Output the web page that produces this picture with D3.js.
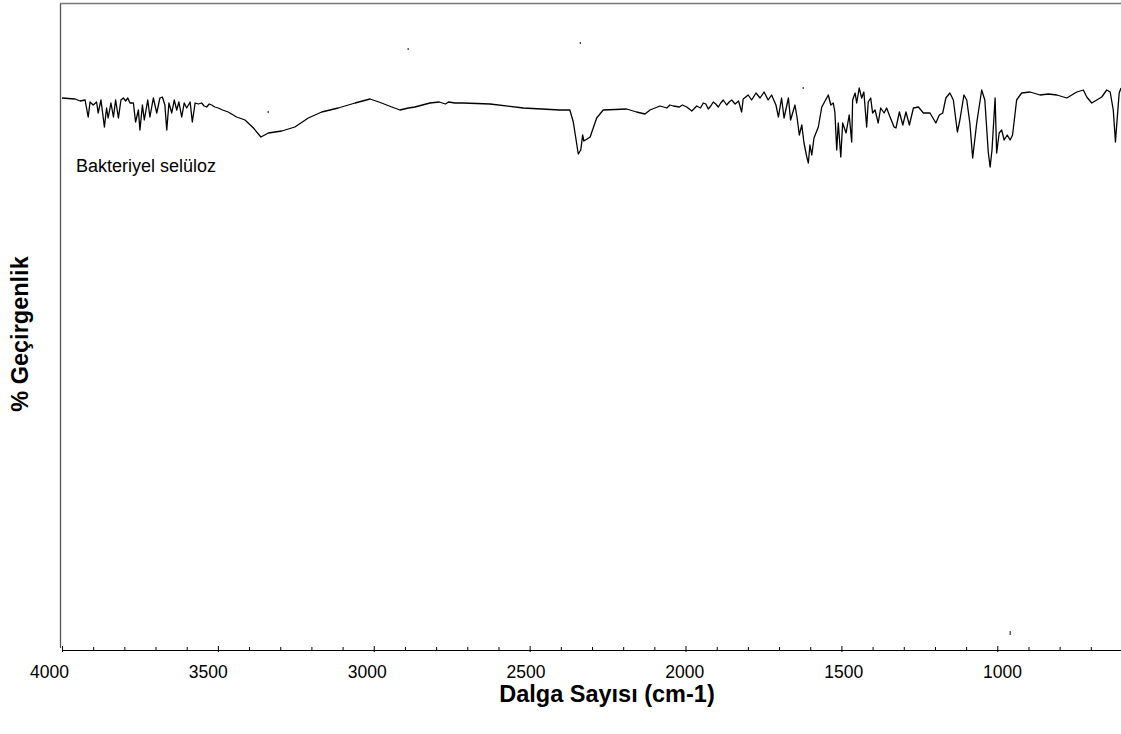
<!DOCTYPE html>
<html>
<head>
<meta charset="utf-8">
<script src="https://cdn.jsdelivr.net/npm/d3@7/dist/d3.min.js"></script>
<style>
  body { margin: 0; background: #fff; }
  svg text { font-family: Arial, "Liberation Sans", sans-serif; fill: #000; }
</style>
</head>
<body>
<div id="chart"></div>
<script>
// ---DATA---//

// [wavenumber cm-1, transmittance %]
var spectrum = [
	[4000,55.2],[3958,55.1],[3942,54.9],[3926,55.0],[3916,53.3],[3910,54.8],[3900,54.5],[3889,54.8],
	[3884,53.7],[3875,55.0],[3864,52.3],[3857,54.2],[3852,53.2],[3843,54.7],[3835,53.3],[3828,55.0],
	[3819,53.2],[3811,55.0],[3803,55.2],[3796,54.9],[3789,55.2],[3782,54.7],[3771,54.7],[3764,52.8],
	[3755,54.0],[3750,52.0],[3742,54.5],[3736,53.0],[3725,55.0],[3718,53.3],[3707,55.2],[3696,53.7],
	[3686,55.2],[3678,55.3],[3670,54.5],[3664,52.0],[3657,54.7],[3648,53.7],[3640,55.0],[3632,54.0],
	[3625,54.8],[3616,53.3],[3608,54.7],[3600,54.2],[3589,54.8],[3582,52.8],[3573,54.7],[3563,54.6],
	[3552,54.7],[3544,54.4],[3536,54.3],[3528,54.6],[3520,54.5],[3510,54.3],[3499,54.2],[3485,54.0],
	[3467,53.8],[3440,53.3],[3413,53.0],[3386,52.2],
	[3362,51.3],[3338,51.7],[3295,51.9],[3253,52.3],[3210,53.2],[3167,53.8],[3114,54.2],[3060,54.7],
	[3012,55.1],[2993,54.9],[2975,54.7],[2942,54.3],[2916,54.0],[2889,54.2],[2868,54.3],[2820,54.7],
	[2790,54.8],[2770,54.6],[2760,54.8],[2740,54.7],
	[2713,54.7],[2627,54.6],[2520,54.2],[2403,54.0],[2371,54.0],[2360,52.8],[2344,49.6],[2336,50.0],
	[2330,51.5],[2326,50.9],[2306,51.3],[2285,53.2],[2264,54.0],[2189,54.1],[2157,53.8],[2130,53.6],
	[2114,54.0],[2082,54.4],[2060,54.2],[2050,54.5],[2039,54.4],[2020,54.3],[2010,54.5],
	[1996,54.3],[1980,53.9],[1964,54.4],[1952,54.2],[1943,54.7],[1935,54.6],[1927,54.1],[1919,54.4],
	[1911,54.8],[1903,54.6],[1895,54.3],[1887,54.7],[1879,55.0],[1868,54.5],[1860,54.8],[1852,55.0],
	[1841,54.6],[1830,54.9],[1820,53.8],[1815,55.1],
	[1799,55.5],[1788,55.0],[1774,55.7],[1761,55.2],[1748,55.8],[1735,55.0],[1724,55.5],[1710,54.5],
	[1702,53.3],[1692,55.2],[1684,53.2],[1670,55.2],[1663,53.0],[1649,54.5],[1642,53.2],[1635,51.5],
	[1627,52.5],[1620,50.7],[1611,49.3],[1606,48.7],[1601,50.5],[1595,49.5],[1588,51.2],[1574,52.3],
	[1563,54.3],[1542,55.5],[1534,54.5],[1526,54.7],[1521,53.8],[1515,50.0],[1510,52.7],[1502,49.3],
	[1496,52.7],[1485,51.7],[1475,53.5],[1467,50.8],[1464,55.0],[1456,55.7],[1451,54.7],[1443,56.2],
	[1435,55.2],[1428,55.8],[1419,52.3],[1414,54.8],[1406,55.2],[1400,53.7],[1392,54.0],[1382,52.7],
	[1374,54.2],[1363,53.7],[1355,54.2],[1344,53.3],[1331,52.3],[1325,52.2],[1314,53.8],[1303,52.5],
	[1293,53.8],[1282,52.5],[1269,54.2],[1253,54.3],[1237,53.7],[1216,53.7],[1197,52.7],[1186,53.5],
	[1175,53.7],[1165,55.2],[1152,55.7],[1141,55.0],[1128,51.8],[1120,53.0],[1107,55.5],[1098,55.0],
	[1088,52.7],[1079,49.2],[1066,52.7],[1050,56.0],[1040,55.0],[1029,49.8],[1023,48.3],[1017,50.0],
	[1007,55.2],[1002,49.7],[994,51.7],[986,52.0],[978,51.0],[968,51.5],[959,51.0],[951,51.5],
	[938,55.0],[922,55.7],[895,55.8],[863,55.5],[836,55.6],[809,55.5],[777,55.2],[745,55.8],
	[724,56.0],[713,55.3],[697,54.7],[681,55.0],[665,55.3],[649,56.0],[638,55.8],[628,54.0],
	[621,50.8],[617,52.5],[609,55.7],[603,56.2]
];

// small stray specks on the plot [wavenumber, transmittance]
var strayMarks = [[2890,60.1],[2338,60.7],[3339,53.8],[1623,56.2],[959,1.8]];

var majorTicks = [4000, 3500, 3000, 2500, 2000, 1500, 1000];
var minorTicks = d3.range(3900, 600, -100).filter(function(d) { return d % 500 !== 0; });

var sampleLabel = "Bakteriyel selüloz";
var xTitle = "Dalga Sayısı (cm-1)";
var yTitle = "% Geçirgenlik";

// ---LAYOUT---//

var width = 1121;
var height = 734;

var svg = d3.select("#chart").append("svg")
	.attr("width", width)
	.attr("height", height);

var x = d3.scaleLinear().domain([4000, 600]).range([62, 1122]);
var y = d3.scaleLinear().domain([0, 64.6]).range([650, 4]);
// printed tick labels sit slightly off their ticks in the original
var xLabel = d3.scaleLinear().domain([4000, 1000]).range([49.5, 1002.5]);

// frame: top and left lines
svg.append("line")
	.attr("x1", 60).attr("x2", width)
	.attr("y1", y(64.6) - 0.5).attr("y2", y(64.6) - 0.5)
	.attr("stroke", "#777").attr("stroke-width", 1.5);

svg.append("line")
	.attr("x1", 60.5).attr("x2", 60.5)
	.attr("y1", y(64.6)).attr("y2", y(0) - 2)
	.attr("stroke", "#555").attr("stroke-width", 1.3);

// ---X AXIS---//

var minorAxis = d3.axisBottom(x).tickValues(minorTicks).tickSize(-3).tickSizeOuter(0).tickFormat("");
var majorAxis = d3.axisBottom(x).tickValues(majorTicks).tickSize(-4).tickSizeOuter(0).tickFormat("");

var gMinor = svg.append("g").attr("transform", "translate(0," + y(0) + ")").call(minorAxis);
var gMajor = svg.append("g").attr("transform", "translate(0," + y(0) + ")").call(majorAxis);
gMinor.select(".domain").remove();
gMajor.select(".domain").attr("stroke", "#000").attr("stroke-width", 1.2);
gMajor.selectAll(".tick line").attr("y2", 2).attr("y1", -4);

svg.append("g").selectAll("text")
	.data(majorTicks).enter().append("text")
	.attr("x", function(d) { return xLabel(d); })
	.attr("y", 678)
	.attr("text-anchor", "middle")
	.style("font-size", "17.5px")
	.text(function(d) { return d; });

svg.append("text")
	.attr("x", 607)
	.attr("y", 702)
	.attr("text-anchor", "middle")
	.style("font-size", "23.5px")
	.style("font-weight", "bold")
	.text(xTitle);

// ---Y TITLE---//

svg.append("text")
	.attr("transform", "translate(28,334) rotate(-90)")
	.attr("text-anchor", "middle")
	.style("font-size", "23.5px")
	.style("font-weight", "bold")
	.text(yTitle);

// ---SPECTRUM---//

var line = d3.line()
	.x(function(d) { return x(d[0]); })
	.y(function(d) { return y(d[1]); });

svg.append("path")
	.datum(spectrum)
	.attr("d", line)
	.attr("fill", "none")
	.attr("stroke", "#000")
	.attr("stroke-width", 1.3)
	.attr("stroke-linejoin", "round");

svg.append("g").selectAll("rect")
	.data(strayMarks).enter().append("rect")
	.attr("x", function(d) { return x(d[0]) - 0.5; })
	.attr("y", function(d) { return y(d[1]) - 1; })
	.attr("width", 1.2)
	.attr("height", function(d, i) { return i === strayMarks.length - 1 ? 4 : 2; })
	.attr("fill", "#333");

svg.append("text")
	.attr("x", 76)
	.attr("y", 172)
	.style("font-size", "18px")
	.text(sampleLabel);
</script>
</body>
</html>
